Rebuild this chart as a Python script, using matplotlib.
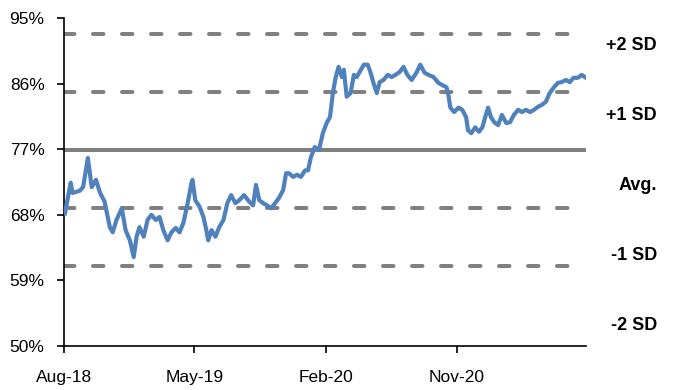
import pandas as pd
import matplotlib
matplotlib.use("Agg")
import matplotlib.pyplot as plt
import matplotlib.dates as mdates
from matplotlib.ticker import FuncFormatter

plt.rcParams['font.family'] = ['Liberation Sans', 'DejaVu Sans']

# ratio series, roughly weekly readings
dates = [
    "2018-08-03", "2018-08-15", "2018-08-19", "2018-09-03", "2018-09-10", "2018-09-20",
    "2018-09-28", "2018-10-07", "2018-10-15", "2018-10-25", "2018-11-05", "2018-11-11",
    "2018-11-19", "2018-11-30", "2018-12-08", "2018-12-17", "2018-12-25", "2018-12-31",
    "2019-01-06", "2019-01-15", "2019-01-23", "2019-01-31", "2019-02-09", "2019-02-17",
    "2019-02-25", "2019-03-06", "2019-03-14", "2019-03-23", "2019-03-31", "2019-04-08",
    "2019-04-17", "2019-04-25", "2019-04-27", "2019-05-03", "2019-05-12", "2019-05-20",
    "2019-05-26", "2019-05-30", "2019-06-06", "2019-06-14", "2019-06-22", "2019-07-01",
    "2019-07-09", "2019-07-17", "2019-07-26", "2019-08-03", "2019-08-13", "2019-08-24",
    "2019-09-01", "2019-09-07", "2019-09-14", "2019-09-22", "2019-09-30", "2019-10-09",
    "2019-10-17", "2019-10-25", "2019-11-03", "2019-11-09", "2019-11-15", "2019-11-24",
    "2019-12-02", "2019-12-10", "2019-12-19", "2019-12-25", "2019-12-31", "2020-01-08",
    "2020-01-17", "2020-01-25", "2020-02-02", "2020-02-09", "2020-02-15", "2020-02-21",
    "2020-02-27", "2020-03-05", "2020-03-09", "2020-03-15", "2020-03-23", "2020-03-30",
    "2020-04-05", "2020-04-11", "2020-04-20", "2020-04-28", "2020-05-04", "2020-05-10",
    "2020-05-17", "2020-05-23", "2020-05-31", "2020-06-09", "2020-06-17", "2020-06-25",
    "2020-07-04", "2020-07-12", "2020-07-20", "2020-07-29", "2020-08-08", "2020-08-16",
    "2020-08-25", "2020-09-02", "2020-09-13", "2020-09-23", "2020-10-01", "2020-10-10",
    "2020-10-14", "2020-10-18", "2020-10-26", "2020-11-04", "2020-11-12", "2020-11-20",
    "2020-11-24", "2020-12-01", "2020-12-09", "2020-12-17", "2020-12-24", "2020-12-30",
    "2021-01-05", "2021-01-11", "2021-01-18", "2021-01-26", "2021-02-03", "2021-02-12",
    "2021-02-20", "2021-02-28", "2021-03-09", "2021-03-17", "2021-03-25", "2021-04-03",
    "2021-04-11", "2021-04-19", "2021-04-28", "2021-05-06", "2021-05-14", "2021-05-23",
    "2021-05-31", "2021-06-08", "2021-06-17", "2021-06-25", "2021-07-03", "2021-07-12",
    "2021-07-20", "2021-07-29",
]
values = [
    68.2, 72.4, 71.0, 71.3, 71.8, 75.8,
    71.8, 72.8, 71.1, 69.8, 66.3, 65.6,
    67.3, 68.9, 65.9, 64.5, 62.2, 65.0,
    66.3, 65.0, 67.3, 68.0, 67.3, 67.7,
    65.9, 64.5, 65.6, 66.2, 65.6, 66.9,
    69.6, 72.4, 72.8, 70.0, 69.1, 67.7,
    65.9, 64.5, 65.9, 65.0, 66.3, 67.3,
    69.6, 70.7, 69.6, 70.0, 70.7, 69.8,
    69.3, 72.1, 70.0, 69.6, 69.3, 68.9,
    69.6, 70.3, 71.4, 73.7, 73.7, 73.2,
    73.5, 73.2, 74.1, 74.1, 75.9, 77.3,
    76.9, 79.2, 80.6, 81.4, 84.7, 86.9,
    88.3, 86.9, 87.9, 84.2, 84.7, 87.2,
    86.9, 87.6, 88.6, 88.6, 87.5, 86.1,
    84.7, 86.2, 86.5, 87.2, 86.9, 87.2,
    87.6, 88.3, 87.2, 86.5, 87.5, 88.6,
    87.5, 87.2, 86.9, 86.1, 85.8, 85.5,
    84.4, 82.7, 82.1, 82.7, 82.4, 81.4,
    79.6, 79.2, 80.0, 79.4, 80.0, 81.4,
    82.7, 81.4, 80.7, 80.3, 81.7, 80.6,
    80.7, 81.7, 82.4, 82.1, 82.4, 82.1,
    82.4, 82.8, 83.1, 83.5, 84.7, 85.5,
    86.1, 86.2, 86.5, 86.2, 86.8, 86.8,
    87.2, 86.8,
]

# long-run average and standard deviation bands
avg = 76.9
sd = 7.95
band_labels = ["+2 SD", "+1 SD", "Avg.", "-1 SD", "-2 SD"]

tick_dates = ["2018-08-01", "2019-05-01", "2020-02-01", "2020-11-01"]
y_ticks = [50, 59, 68, 77, 86, 95]

x = pd.to_datetime(dates)

fig = plt.figure(figsize=(6.75, 3.9), dpi=100)
ax = fig.add_axes([0.0948, 0.1128, 0.7733, 0.841])

grey = '#808080'
for k in (2, 1, -1, -2):
    ax.axhline(avg + k * sd, color=grey, lw=2.9, dashes=(2.6, 4.6),
               dash_capstyle='round', zorder=1)
ax.axhline(avg, color=grey, lw=2.9, zorder=1)

ax.plot(x, values, color='#4F81BD', lw=3.0, zorder=3)

ax.set_ylim(50, 95)
ax.set_yticks(y_ticks)
ax.yaxis.set_major_formatter(FuncFormatter(lambda v, p: f"{v:.0f}%"))
ax.set_xlim(pd.Timestamp("2018-08-01"), x[-1])
ax.set_xticks(pd.to_datetime(tick_dates))
ax.xaxis.set_major_formatter(mdates.DateFormatter("%b-%y"))

for s in ('top', 'right'):
    ax.spines[s].set_visible(False)
for s in ('left', 'bottom'):
    ax.spines[s].set_linewidth(1.2)
ax.tick_params(axis='both', direction='out', length=5, width=1.2, labelsize=12.5)
ax.tick_params(axis='y', pad=9)
ax.tick_params(axis='x', pad=12)

# band names down the right-hand side
for i, lab in enumerate(band_labels):
    fig.text(657 / 675, 1 - (45 + 70 * i) / 390, lab, ha='right', va='center',
             fontsize=13, fontweight='bold')

fig.savefig("out.png", dpi=100)
